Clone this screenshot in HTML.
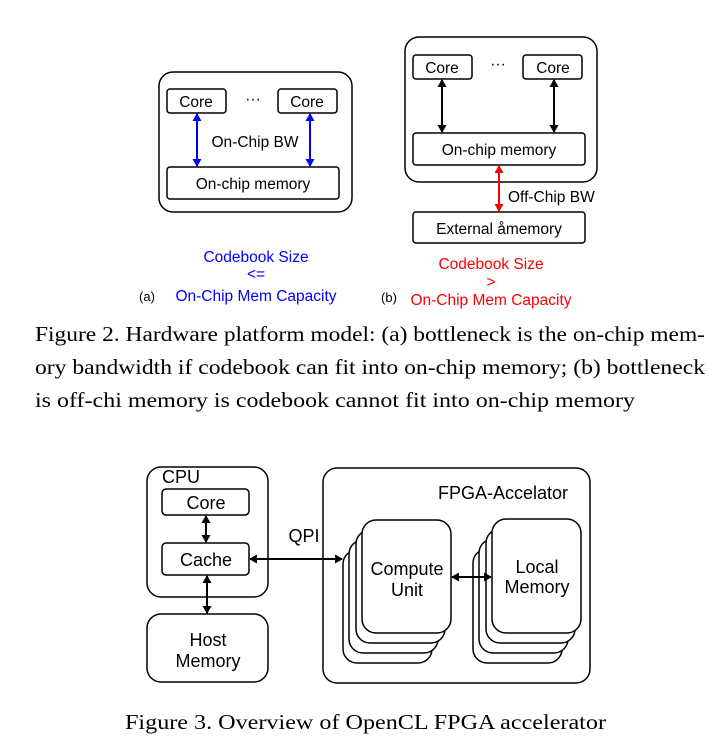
<!DOCTYPE html>
<html><head><meta charset="utf-8"><style>
html,body{margin:0;padding:0;background:#fff;}
svg{display:block;}
.s{font-family:"Liberation Sans",sans-serif;}
.t{font-family:"Liberation Serif",serif;font-size:21px;}
</style></head><body>
<svg width="718" height="744" viewBox="0 0 718 744" xmlns="http://www.w3.org/2000/svg">
<defs>
<marker id="ab" markerWidth="8" markerHeight="9" refX="7" refY="4.5" orient="auto-start-reverse" markerUnits="userSpaceOnUse"><path d="M0,0 L8,4.5 L0,9 Z" fill="#0000ff"/></marker>
<marker id="ak" markerWidth="8" markerHeight="9" refX="7" refY="4.5" orient="auto-start-reverse" markerUnits="userSpaceOnUse"><path d="M0,0 L8,4.5 L0,9 Z" fill="#000"/></marker>
<marker id="ar" markerWidth="8" markerHeight="9" refX="7" refY="4.5" orient="auto-start-reverse" markerUnits="userSpaceOnUse"><path d="M0,0 L8,4.5 L0,9 Z" fill="#ff0000"/></marker>
</defs>
<g fill="none" stroke="#000" stroke-width="1.5">
<rect x="159" y="72" width="193" height="140" rx="14"/>
<rect x="167" y="89" width="59" height="24" rx="3"/>
<rect x="278" y="89" width="59" height="24" rx="3"/>
<rect x="167" y="167" width="172" height="32" rx="3"/>
<rect x="405" y="37" width="192" height="145" rx="14"/>
<rect x="413" y="55" width="59" height="24" rx="3"/>
<rect x="523" y="55" width="59" height="24" rx="3"/>
<rect x="413" y="133" width="172" height="32" rx="3"/>
<rect x="413" y="212" width="172" height="31" rx="3"/>
</g>
<g stroke-width="2">
<line x1="197" y1="114" x2="197" y2="166" stroke="#0000ff" marker-start="url(#ab)" marker-end="url(#ab)"/>
<line x1="310" y1="114" x2="310" y2="166" stroke="#0000ff" marker-start="url(#ab)" marker-end="url(#ab)"/>
<line x1="442" y1="80" x2="442" y2="132" stroke="#000" marker-start="url(#ak)" marker-end="url(#ak)"/>
<line x1="554" y1="80" x2="554" y2="132" stroke="#000" marker-start="url(#ak)" marker-end="url(#ak)"/>
<line x1="499" y1="166" x2="499" y2="211" stroke="#ff0000" marker-start="url(#ar)" marker-end="url(#ar)"/>
</g>
<g class="s" font-size="15.5" text-anchor="middle" fill="#000">
<text x="196" y="107">Core</text>
<text x="307" y="107">Core</text>
<text x="253" y="104">···</text>
<text x="255" y="147">On-Chip BW</text>
<text x="253" y="189">On-chip memory</text>
<text x="442" y="73">Core</text>
<text x="553" y="73">Core</text>
<text x="498" y="69">···</text>
<text x="499" y="155">On-chip memory</text>
<text x="499" y="234">External åmemory</text>
<text x="508" y="202" text-anchor="start">Off-Chip BW</text>
<text x="147" y="301" font-size="13">(a)</text>
<text x="389" y="302" font-size="13">(b)</text>
</g>
<g class="s" font-size="15.5" text-anchor="middle">
<text x="256" y="262" fill="#0000ff">Codebook Size</text>
<text x="256" y="279" fill="#0000ff">&lt;=</text>
<text x="256" y="301" fill="#0000ff">On-Chip Mem Capacity</text>
<text x="491" y="269" fill="#ff0000">Codebook Size</text>
<text x="491" y="287" fill="#ff0000">&gt;</text>
<text x="491" y="305" fill="#ff0000">On-Chip Mem Capacity</text>
</g>
<g class="t" fill="#000">
<text x="35" y="341" textLength="670" lengthAdjust="spacingAndGlyphs">Figure 2. Hardware platform model: (a) bottleneck is the on-chip mem-</text>
<text x="35" y="374" textLength="670" lengthAdjust="spacingAndGlyphs">ory bandwidth if codebook can fit into on-chip memory; (b) bottleneck</text>
<text x="35" y="407" textLength="600" lengthAdjust="spacingAndGlyphs">is off-chi memory is codebook cannot fit into on-chip memory</text>
<text x="125" y="729" textLength="481" lengthAdjust="spacingAndGlyphs">Figure 3. Overview of OpenCL FPGA accelerator</text>
</g>
<g fill="#fff" stroke="#000" stroke-width="1.5">
<rect x="147" y="467" width="121" height="130" rx="14"/>
<rect x="162" y="489" width="87" height="26" rx="4"/>
<rect x="162" y="543" width="87" height="32" rx="4"/>
<rect x="147" y="614" width="121" height="68" rx="14"/>
<rect x="323" y="468" width="267" height="215" rx="14"/>
<rect x="343" y="550" width="89" height="113" rx="14"/>
<rect x="349" y="540" width="89" height="113" rx="14"/>
<rect x="356" y="530" width="89" height="113" rx="14"/>
<rect x="362" y="520" width="89" height="113" rx="14"/>
<rect x="473" y="549" width="89" height="114" rx="14"/>
<rect x="479" y="539" width="89" height="114" rx="14"/>
<rect x="486" y="529" width="89" height="114" rx="14"/>
<rect x="492" y="519" width="89" height="114" rx="14"/>
</g>
<g stroke="#000" stroke-width="2">
<line x1="206" y1="516" x2="206" y2="542" marker-start="url(#ak)" marker-end="url(#ak)"/>
<line x1="207" y1="576" x2="207" y2="613" marker-start="url(#ak)" marker-end="url(#ak)"/>
<line x1="250" y1="559" x2="342" y2="559" marker-start="url(#ak)" marker-end="url(#ak)"/>
<line x1="452" y1="577" x2="491" y2="577" marker-start="url(#ak)" marker-end="url(#ak)"/>
</g>
<g class="s" font-size="18" fill="#000" text-anchor="middle">
<text x="181" y="483">CPU</text>
<text x="206" y="509">Core</text>
<text x="206" y="566">Cache</text>
<text x="208" y="646">Host</text>
<text x="208" y="667">Memory</text>
<text x="304" y="542">QPI</text>
<text x="568" y="499" text-anchor="end">FPGA-Accelator</text>
<text x="407" y="575">Compute</text>
<text x="407" y="596">Unit</text>
<text x="537" y="573">Local</text>
<text x="537" y="593">Memory</text>
</g>
</svg>
</body></html>
